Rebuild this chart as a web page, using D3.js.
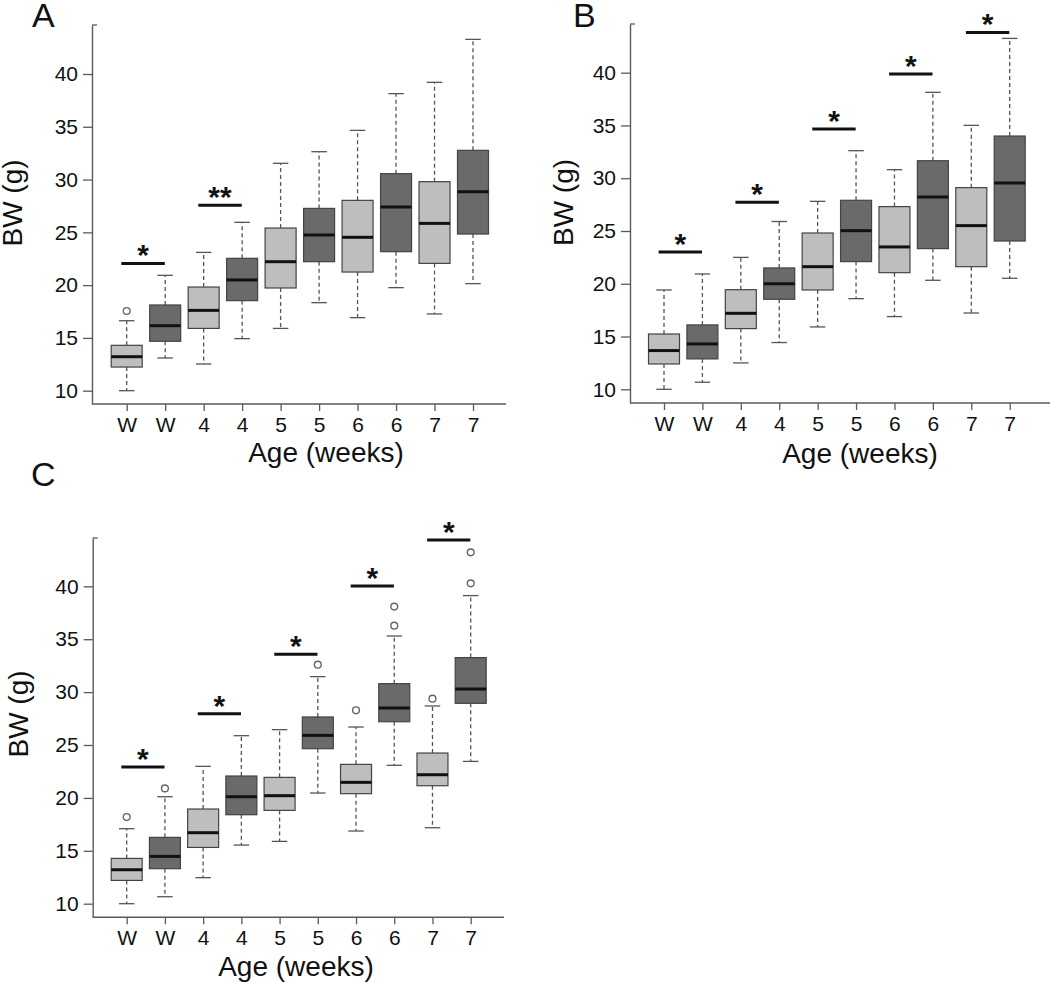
<!DOCTYPE html>
<html>
<head>
<meta charset="utf-8">
<script src="https://cdn.jsdelivr.net/npm/d3@7"></script>
<style>
  html, body { margin: 0; padding: 0; background: #fff; }
  svg { display: block; font-family: "Liberation Sans", Arial, sans-serif; }
</style>
</head>
<body>
<svg id="chart" width="1050" height="983"></svg>
<script>
// ---------------- data ----------------
const categories = ["W", "W", "4", "4", "5", "5", "6", "6", "7", "7"];
const groups = ["light", "dark", "light", "dark", "light", "dark", "light", "dark", "light", "dark"];
const yTicks = [10, 15, 20, 25, 30, 35, 40];
const panelLetters = ["A", "B", "C"];
const xTitle = "Age (weeks)";
const yTitle = "BW (g)";

// Panel A
const aLow  = [10.0, 13.1, 12.53, 14.93, 15.9, 18.34, 16.92, 19.76, 17.27, 20.14];
const aQ1   = [12.24, 14.68, 15.9, 18.53, 19.73, 22.22, 21.24, 23.17, 22.06, 24.84];
const aMed  = [13.22, 16.16, 17.61, 20.49, 22.22, 24.75, 24.53, 27.4, 25.85, 28.85];
const aQ3   = [14.3, 18.12, 19.82, 22.54, 25.41, 27.27, 28.03, 30.56, 29.8, 32.77];
const aHigh = [16.63, 20.93, 23.1, 25.95, 31.54, 32.64, 34.66, 38.14, 39.21, 43.28];
const aOut  = [[0, 17.55]];
const aSig  = [[0, 1, "*", 22.06], [2, 3, "**", 27.56]];

// Panel B
const bLow  = [10.0, 10.67, 12.5, 14.43, 15.91, 18.59, 16.89, 20.33, 17.23, 20.52];
const bQ1   = [12.4, 12.88, 15.75, 18.53, 19.41, 22.1, 21.05, 23.33, 21.62, 24.05];
const bMed  = [13.67, 14.3, 17.2, 20.0, 21.62, 25.03, 23.49, 28.22, 25.51, 29.55];
const bQ3   = [15.24, 16.1, 19.44, 21.5, 24.81, 27.91, 27.31, 31.66, 29.11, 34.0];
const bHigh = [19.41, 20.93, 22.5, 25.9, 27.81, 32.61, 30.81, 38.14, 35.01, 43.25];
const bOut  = [];
const bSig  = [[0, 1, "*", 23.01], [2, 3, "*", 27.72], [4, 5, "*", 34.66], [6, 7, "*", 39.87], [8, 9, "*", 43.82]];

// Panel C
const cLow  = [10.0, 10.66, 12.46, 15.54, 15.89, 20.46, 16.87, 23.08, 17.18, 23.45];
const cQ1   = [12.2, 13.31, 15.32, 18.41, 18.82, 24.65, 20.4, 27.2, 21.15, 28.94];
const cMed  = [13.21, 14.47, 16.71, 20.11, 20.21, 25.91, 21.47, 28.5, 22.19, 30.29];
const cQ3   = [14.28, 16.27, 18.95, 22.07, 21.94, 27.65, 23.17, 30.8, 24.24, 33.26];
const cHigh = [17.09, 20.11, 22.98, 25.88, 26.45, 31.46, 26.7, 35.3, 28.69, 39.12];
const cOut  = [[0, 18.19], [1, 20.9], [5, 32.59], [6, 28.28], [7, 38.08], [7, 36.28], [8, 29.38], [9, 43.21], [9, 40.28]];
const cSig  = [[0, 1, "*", 22.92], [2, 3, "*", 27.96], [4, 5, "*", 33.57], [6, 7, "*", 40.03], [8, 9, "*", 44.38]];

// ---------------- layout / style ----------------
const fills = { light: "#bebebe", dark: "#6a6a6a" };
const layouts = [
  { axX: 92,    top: 25,  bottom: 404,   right: 506,  y10: 390.7, y40: 74,    xFirst: 126.7, xLast: 473,
    letter: [32, 27],  ylab: [22, 203],  xlab: [326, 462] },
  { axX: 630,   top: 24,  bottom: 403,   right: 1050, y10: 389.3, y40: 72.7,  xFirst: 664,   xLast: 1009.7,
    letter: [573, 27], ylab: [573, 202.5], xlab: [860, 463] },
  { axX: 92.7,  top: 538, bottom: 917.3, right: 504,  y10: 903.7, y40: 586.3, xFirst: 126.7, xLast: 470.7,
    letter: [31, 486], ylab: [28, 714],  xlab: [296, 976] }
];
const panelsData = [
  { low: aLow, q1: aQ1, med: aMed, q3: aQ3, high: aHigh, out: aOut, sig: aSig },
  { low: bLow, q1: bQ1, med: bMed, q3: bQ3, high: bHigh, out: bOut, sig: bSig },
  { low: cLow, q1: cQ1, med: cMed, q3: cQ3, high: cHigh, out: cOut, sig: cSig }
];

const svg = d3.select("#chart");
const boxW = 31;
const axisColor = "#5a5a5a";

panelsData.forEach((pd, pi) => {
  const L = layouts[pi];
  const g = svg.append("g");

  const base = d3.scaleLinear().domain([10, 40]).range([L.y10, L.y40]);
  const y = d3.scaleLinear().domain([base.invert(L.bottom), base.invert(L.top)]).range([L.bottom, L.top]);
  const x = d3.scalePoint().domain(d3.range(categories.length)).range([L.xFirst, L.xLast]);
  const step = x.step();

  // y axis
  const ya = g.append("g").attr("transform", `translate(${L.axX},0)`)
    .call(d3.axisLeft(y).tickValues(yTicks).tickSize(9).tickSizeOuter(0).tickPadding(5).tickFormat(d3.format("d")));
  ya.select(".domain").attr("stroke", axisColor).attr("stroke-width", 1.4);
  ya.selectAll(".tick line").attr("stroke", axisColor).attr("stroke-width", 1.3);
  ya.selectAll(".tick text").attr("font-size", 21).attr("fill", "#111")
    .attr("font-family", "Liberation Sans, Arial, sans-serif");
  g.append("line").attr("x1", L.axX).attr("x2", L.axX + 5).attr("y1", L.top).attr("y2", L.top)
    .attr("stroke", axisColor).attr("stroke-width", 1.3);

  // x axis
  const xa = g.append("g").attr("transform", `translate(0,${L.bottom})`)
    .call(d3.axisBottom(x).tickSize(7).tickSizeOuter(0).tickPadding(6).tickFormat(i => categories[i]));
  xa.select(".domain").remove();
  xa.selectAll(".tick line").attr("stroke", axisColor).attr("stroke-width", 1.3);
  xa.selectAll(".tick text").attr("font-size", 21).attr("fill", "#111")
    .attr("font-family", "Liberation Sans, Arial, sans-serif");
  g.append("line").attr("x1", L.axX).attr("x2", L.right).attr("y1", L.bottom).attr("y2", L.bottom)
    .attr("stroke", axisColor).attr("stroke-width", 1.4);

  // boxes
  const items = d3.range(categories.length).map(i => ({
    i, low: pd.low[i], q1: pd.q1[i], med: pd.med[i], q3: pd.q3[i], high: pd.high[i], grp: groups[i]
  }));
  const bx = g.append("g").selectAll("g").data(items).join("g");
  // whiskers (dashed)
  bx.append("line").attr("x1", d => x(d.i)).attr("x2", d => x(d.i))
    .attr("y1", d => y(d.q3)).attr("y2", d => y(d.high))
    .attr("stroke", "#555").attr("stroke-width", 1.3).attr("stroke-dasharray", "4,3");
  bx.append("line").attr("x1", d => x(d.i)).attr("x2", d => x(d.i))
    .attr("y1", d => y(d.q1)).attr("y2", d => y(d.low))
    .attr("stroke", "#555").attr("stroke-width", 1.3).attr("stroke-dasharray", "4,3");
  // caps
  bx.append("line").attr("x1", d => x(d.i) - boxW / 4).attr("x2", d => x(d.i) + boxW / 4)
    .attr("y1", d => y(d.high)).attr("y2", d => y(d.high)).attr("stroke", "#555").attr("stroke-width", 1.3);
  bx.append("line").attr("x1", d => x(d.i) - boxW / 4).attr("x2", d => x(d.i) + boxW / 4)
    .attr("y1", d => y(d.low)).attr("y2", d => y(d.low)).attr("stroke", "#555").attr("stroke-width", 1.3);
  // box
  bx.append("rect").attr("x", d => x(d.i) - boxW / 2).attr("width", boxW)
    .attr("y", d => y(d.q3)).attr("height", d => y(d.q1) - y(d.q3))
    .attr("fill", d => fills[d.grp]).attr("stroke", "#444").attr("stroke-width", 1.2);
  // median
  bx.append("line").attr("x1", d => x(d.i) - boxW / 2).attr("x2", d => x(d.i) + boxW / 2)
    .attr("y1", d => y(d.med)).attr("y2", d => y(d.med)).attr("stroke", "#111").attr("stroke-width", 3);

  // outliers
  g.append("g").selectAll("circle").data(pd.out).join("circle")
    .attr("cx", d => x(d[0])).attr("cy", d => y(d[1])).attr("r", 3.4)
    .attr("fill", "none").attr("stroke", "#666").attr("stroke-width", 1.4);

  // significance bars
  const sg = g.append("g").selectAll("g").data(pd.sig).join("g");
  const mid = d => (x(d[0]) + x(d[1])) / 2;
  const bl = d => mid(d) - 0.64 * step;
  const br = d => mid(d) + 0.49 * step;
  sg.append("line").attr("x1", bl).attr("x2", br).attr("y1", d => y(d[3])).attr("y2", d => y(d[3]))
    .attr("stroke", "#111").attr("stroke-width", 3);
  sg.append("text").attr("x", d => (bl(d) + br(d)) / 2).attr("y", d => y(d[3]) + 2)
    .attr("text-anchor", "middle").attr("font-size", 30).attr("font-weight", "bold").attr("fill", "#111")
    .text(d => d[2]);

  // titles
  g.append("text").attr("x", L.letter[0]).attr("y", L.letter[1]).attr("font-size", 34).attr("fill", "#111")
    .text(panelLetters[pi]);
  g.append("text").attr("transform", `translate(${L.ylab[0]},${L.ylab[1]}) rotate(-90)`)
    .attr("text-anchor", "middle").attr("font-size", 28).attr("fill", "#111").text(yTitle);
  g.append("text").attr("x", L.xlab[0]).attr("y", L.xlab[1]).attr("text-anchor", "middle")
    .attr("font-size", 28).attr("fill", "#111").text(xTitle);
});
</script>
</body>
</html>
